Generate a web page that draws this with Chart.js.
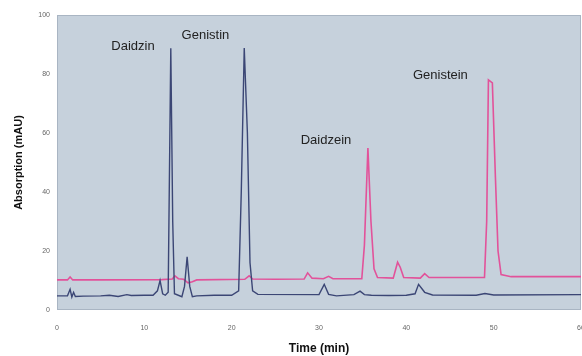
<!DOCTYPE html>
<html>
<head>
<meta charset="utf-8">
<script src="https://cdn.jsdelivr.net/npm/chart.js@4/dist/chart.umd.min.js"></script>
<style>
  html, body { margin: 0; padding: 0; background: #ffffff; }
  #wrap { width: 582px; height: 356px; position: relative; }
</style>
</head>
<body>
<div id="wrap"><canvas id="c" width="582" height="356"></canvas></div>
<script>
// Retention time (min) and absorption (mAU)
const glycosideTime = [0, 1.2, 1.5, 1.7, 1.9, 2.1, 3, 5, 6, 7, 8, 8.5, 10, 11, 11.5, 11.8, 12.1, 12.4, 12.73, 13.03, 13.25, 13.45, 14.3, 14.6, 14.9, 15.2, 15.5, 16, 18, 20, 20.8, 21.1, 21.44, 21.8, 22.1, 22.4, 23, 30, 30.6, 31.1, 32, 34, 34.7, 35.2, 36, 38, 40, 41, 41.4, 42.1, 43, 48, 49, 50, 60];
const glycosideAbs  = [4.8, 4.8, 7.0, 4.4, 6.0, 4.6, 4.7, 4.8, 5.0, 4.6, 5.2, 4.9, 5.0, 5.0, 6.5, 10.0, 5.5, 5.0, 6.0, 88.7, 30, 5.5, 4.5, 8.0, 18.0, 8.0, 4.5, 4.8, 5.0, 5.0, 6.5, 40, 88.8, 60, 16, 6.5, 5.3, 5.2, 8.7, 5.3, 4.8, 5.2, 6.4, 5.2, 5.0, 4.9, 5.0, 5.5, 8.7, 6.0, 5.1, 5.0, 5.6, 5.1, 5.2];

const aglyconeTime = [0, 1.2, 1.5, 1.8, 5, 12, 13.2, 13.5, 13.9, 14.5, 15.0, 15.5, 16, 21.5, 22.0, 22.4, 25, 28.3, 28.7, 29.2, 30.5, 31.1, 31.6, 34.9, 35.2, 35.6, 35.95, 36.3, 36.7, 38.5, 39.0, 39.3, 39.7, 41.6, 42.1, 42.6, 48.95, 49.2, 49.4, 49.85, 50.2, 50.5, 50.85, 52, 60];
const aglyconeAbs  = [10.2, 10.2, 11.2, 10.2, 10.2, 10.3, 10.5, 11.6, 10.6, 10.4, 9.2, 9.6, 10.2, 10.4, 11.6, 10.5, 10.4, 10.5, 12.6, 10.8, 10.6, 11.4, 10.6, 10.6, 22, 54.9, 30, 14, 11, 10.8, 16.2, 14.5, 11, 10.8, 12.3, 11, 11, 30, 78, 77, 45, 20, 12, 11.3, 11.3];

// Peak labels
const peakNames = ["Daidzin", "Genistin", "Daidzein", "Genistein"];
const peakLabelTime = [8.7, 17.0, 30.8, 43.9];
const peakLabelAbs  = [89.5, 93.0, 57.5, 79.5];

// Axis ticks
const xTicks = [0, 10, 20, 30, 40, 50, 60];
const yTicks = [0, 20, 40, 60, 80, 100];

const toPts = (xs, ys) => xs.map((x, i) => ({ x: x, y: ys[i] }));

const plotBg = {
  id: 'plotBg',
  beforeDraw(chart) {
    const { ctx, chartArea: a } = chart;
    ctx.save();
    ctx.fillStyle = '#c6d1dc';
    ctx.fillRect(a.left, a.top, a.right - a.left, a.bottom - a.top);
    ctx.strokeStyle = '#a9b5c3';
    ctx.lineWidth = 1;
    ctx.strokeRect(a.left + 0.5, a.top + 0.5, a.right - a.left - 1, a.bottom - a.top - 1);
    ctx.restore();
  }
};

const peakText = {
  id: 'peakText',
  afterDatasetsDraw(chart) {
    const { ctx, scales } = chart;
    ctx.save();
    ctx.fillStyle = '#222222';
    ctx.font = '13px "Liberation Sans", Arial, sans-serif';
    ctx.textAlign = 'center';
    ctx.textBaseline = 'middle';
    peakNames.forEach((n, i) => {
      ctx.fillText(n, scales.x.getPixelForValue(peakLabelTime[i]), scales.y.getPixelForValue(peakLabelAbs[i]));
    });
    ctx.restore();
  }
};

new Chart(document.getElementById('c'), {
  type: 'line',
  data: {
    datasets: [
      { label: 'Glycosides', data: toPts(glycosideTime, glycosideAbs), borderColor: '#3b4675', borderWidth: 1.4, pointRadius: 0, tension: 0, fill: false },
      { label: 'Aglycones', data: toPts(aglyconeTime, aglyconeAbs), borderColor: '#e2529a', borderWidth: 1.6, pointRadius: 0, tension: 0, fill: false }
    ]
  },
  options: {
    responsive: false,
    animation: false,
    events: [],
    layout: { padding: { top: 15, right: 0, left: 0, bottom: 0 } },
    plugins: { legend: { display: false }, tooltip: { enabled: false } },
    scales: {
      x: {
        type: 'linear', min: 0, max: 60,
        afterBuildTicks: s => { s.ticks = xTicks.map(v => ({ value: v })); },
        afterFit: s => { s.height = 46; s.paddingLeft = 0; s.paddingRight = 1; },
        grid: { display: false, drawTicks: false },
        border: { display: false },
        ticks: { padding: 14, color: '#666', font: { size: 7, family: '"Liberation Sans", Arial, sans-serif' } },
        title: { display: true, text: 'Time (min)', color: '#111', padding: { top: 6, bottom: 0 }, font: { size: 12, weight: 'bold', family: '"Liberation Sans", Arial, sans-serif' } }
      },
      y: {
        type: 'linear', min: 0, max: 100,
        afterBuildTicks: s => { s.ticks = yTicks.map(v => ({ value: v })); },
        afterFit: s => { s.width = 57; s.paddingTop = 0; s.paddingBottom = 0; },
        grid: { display: false, drawTicks: false },
        border: { display: false },
        ticks: { padding: 7, color: '#666', font: { size: 7, family: '"Liberation Sans", Arial, sans-serif' } },
        title: { display: true, text: 'Absorption (mAU)', color: '#111', padding: { top: 12, bottom: 0 }, font: { size: 11, weight: 'bold', family: '"Liberation Sans", Arial, sans-serif' } }
      }
    }
  },
  plugins: [plotBg, peakText]
});
</script>
</body>
</html>
